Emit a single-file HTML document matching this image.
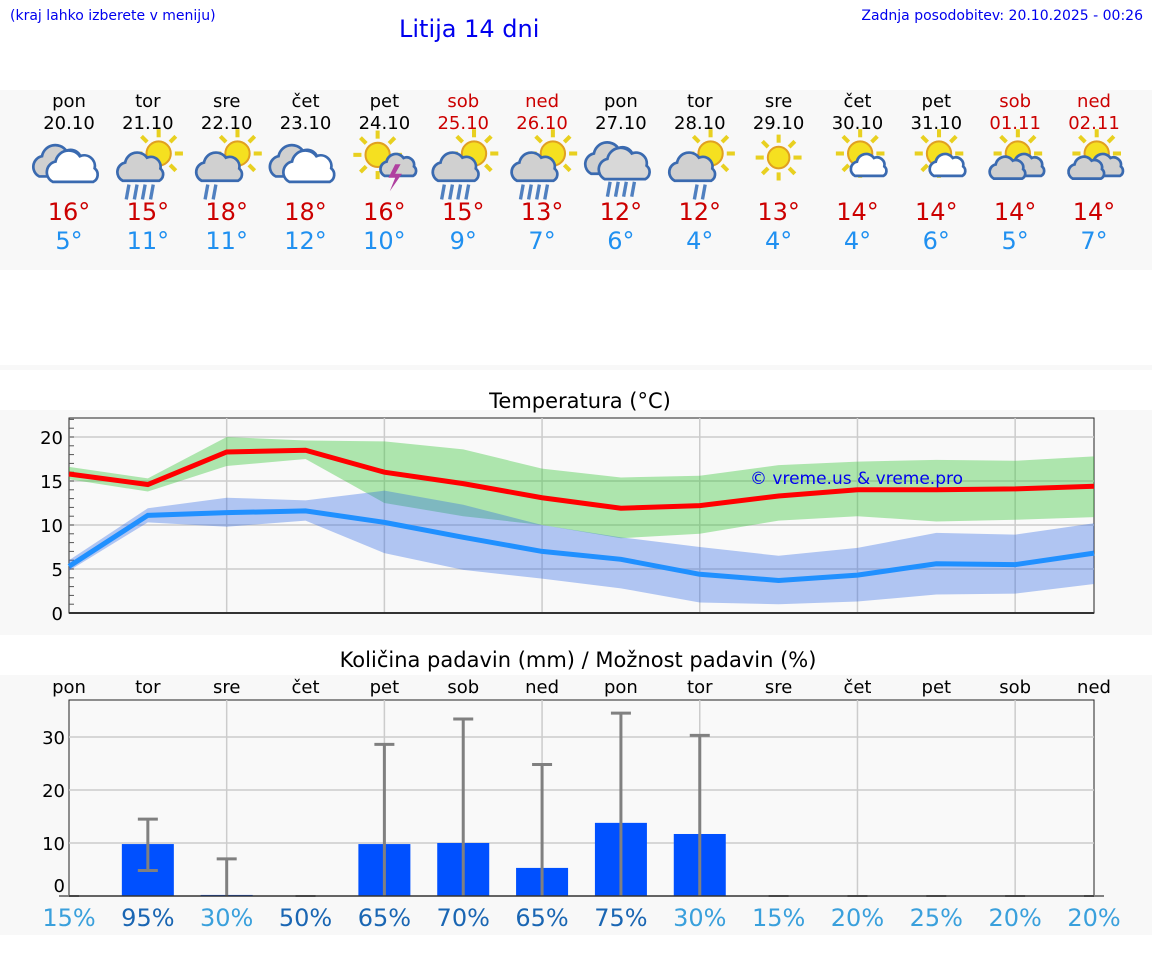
<!DOCTYPE html>
<html><head><meta charset="utf-8"><style>
body{margin:0;width:1152px;height:975px;background:#fff;font-family:"DejaVu Sans","Liberation Sans",sans-serif;position:relative;overflow:hidden}
.a{position:absolute}
</style></head><body>
<div class="a" style="left:10px;top:8px;font-size:14px;color:#0000ee">(kraj lahko izberete v meniju)</div>
<div class="a" style="left:399px;top:15px;font-size:24px;color:#0000ee">Litija 14 dni</div>
<div class="a" style="right:9px;top:8px;font-size:14px;color:#0000ee">Zadnja posodobitev: 20.10.2025 - 00:26</div>
<div class="a" style="left:0;top:90px;width:1152px;height:180px;background:#f8f8f8"></div>
<div class="a" style="left:0;top:365px;width:1152px;height:5px;background:#f8f8f8"></div>
<div class="a" style="left:0;top:410px;width:1152px;height:225px;background:#f8f8f8"></div>
<div class="a" style="left:0;top:675px;width:1152px;height:260px;background:#f8f8f8"></div>
<svg id="s" class="a" style="left:0;top:0" width="1152" height="975"></svg>
<script>
const days=["pon","tor","sre","čet","pet","sob","ned","pon","tor","sre","čet","pet","sob","ned"];
const dates=["20.10","21.10","22.10","23.10","24.10","25.10","26.10","27.10","28.10","29.10","30.10","31.10","01.11","02.11"];
const icons=["cloud","sunrain3","sunrain2","cloud","sunstorm","sunrain3","sunrain3","cloudrain","sunrain1","sun","suncloud","suncloud","suncloudg","suncloudg"];
const tmaxDay=[16,15,18,18,16,15,13,12,12,13,14,14,14,14];
const tminDay=[5,11,11,12,10,9,7,6,4,4,4,6,5,7];
const tmax=[15.8,14.6,18.3,18.5,16.0,14.7,13.1,11.9,12.2,13.3,14.0,14.0,14.1,14.4];
const tmin=[5.3,11.1,11.4,11.6,10.3,8.6,7.0,6.1,4.4,3.7,4.3,5.6,5.5,6.8];
const maxHi=[16.6,15.3,20.0,19.6,19.5,18.6,16.4,15.4,15.6,16.8,17.2,17.4,17.3,17.8];
const maxLo=[15.2,13.8,16.7,17.5,12.5,11.0,10.0,8.5,9.0,10.5,11.0,10.4,10.6,10.9];
const minHi=[6.0,11.9,13.1,12.8,13.9,12.3,10.0,8.6,7.5,6.5,7.4,9.1,8.9,10.2];
const minLo=[4.8,10.3,9.8,10.5,6.8,4.9,3.9,2.8,1.2,1.0,1.3,2.1,2.2,3.3];
const rain=[0,9.8,0.2,0,9.8,10,5.3,13.8,11.7,0,0,0,0,0];
const rainHi=[0,14.5,7,0,28.6,33.4,24.8,34.5,30.3,0,0,0,0,0];
const rainLo=[0,4.8,0,0,0,0,0,0,0,0,0,0,0,0];
const prob=[15,95,30,50,65,70,65,75,30,15,20,25,20,20];
const tTicks=[0,5,10,15,20];const pTicks=[0,10,20,30];

const S=document.getElementById('s');const NS='http://www.w3.org/2000/svg';
function el(t,a,p){const e=document.createElementNS(NS,t);for(const k in a)e.setAttribute(k,a[k]);(p||S).appendChild(e);return e;}
function tx(x,y,s,size,fill,anchor,name){const e=el('text',{x:x,y:y,'font-size':size,fill:fill,'text-anchor':anchor||'middle','font-family':'DejaVu Sans, Liberation Sans, sans-serif'});e.textContent=s;return e;}
const X=i=>69+i*(1094-69)/13;
const Yt=v=>613-v*8.8;
const Yp=v=>896-v*5.3;
function cloud(g,cx,cy,s,fill){el('path',{d:`M${cx-14*s},${cy+8*s} a8 8 0 0 1 2,-15 a10 10 0 0 1 18,-4 a8 8 0 0 1 11,9 a6 6 0 0 1 -1,10 z`.replace(/a(\S+) (\S+) 0 0 1 (\S+),(\S+)/g,(m,r1,r2,dx,dy)=>`a${r1*s} ${r2*s} 0 0 1 ${dx*s},${dy*s}`),fill:fill,stroke:'#3a6ab0','stroke-width':2},g);}
function sun(g,cx,cy,r){for(let k=0;k<8;k++){const a=k*Math.PI/4;el('line',{x1:cx+Math.cos(a)*(r+3),y1:cy+Math.sin(a)*(r+3),x2:cx+Math.cos(a)*(r+9),y2:cy+Math.sin(a)*(r+9),stroke:'#e8d020','stroke-width':3},g);}el('circle',{cx:cx,cy:cy,r:r,fill:'#f5e020',stroke:'#e0a020','stroke-width':1.5},g);}
function drops(g,cx,cy,n){for(let k=0;k<n;k++)el('line',{x1:cx+k*6,y1:cy,x2:cx+k*6-2,y2:cy+11,stroke:'#5080c0','stroke-width':2.5},g);}
days.forEach((d,i)=>{const x=X(i);const we=(i==5||i==6||i==12||i==13);
 tx(x,107,d,18,we?'#cc0000':'#000','middle','day-name');
 tx(x,129,dates[i],18,we?'#cc0000':'#000','middle','day-date');
 const g=el('g',{transform:`translate(${x},167) scale(1.35) translate(${-x},-167)`});
 const t=icons[i];
 if(t=='cloud'){cloud(g,x-8,166,1,'#d0d0d0');cloud(g,x+2,170,1,'#fff');}
 else if(t=='cloudrain'){cloud(g,x-8,164,1,'#d0d0d0');cloud(g,x+2,168,1,'#d8d8d8');drops(g,x-8,178,4);}
 else if(t.startsWith('sunrain')){sun(g,x+8,157,9);cloud(g,x-6,170,0.9,'#d0d0d0');const n=t=='sunrain3'?4:2;drops(g,x-14+(t=='sunrain1'?12:0),180,n);}
 else if(t=='sun'){sun(g,x,160,8);}
 else if(t=='sunstorm'){sun(g,x-5,158,9);cloud(g,x+10,168,0.7,'#d0d0d0');el('path',{d:`M${x+8},165 l-5,10 h5 l-4,10 l9,-13 h-5 l4,-7z`,fill:'#b040a0'},g);}
 else {sun(g,x+2,157,9);cloud(g,x+8,168,0.7,t=='suncloudg'?'#d0d0d0':'#fff');if(t=='suncloudg')cloud(g,x-6,170,0.7,'#d0d0d0');}
 tx(x,220,tmaxDay[i]+'°',24,'#cc0000','middle','max-temp');
 tx(x,249,tminDay[i]+'°',24,'#2090f0','middle','min-temp');
});
// temperature chart
tx(580,408,'Temperatura (°C)',21,'#000','middle','temp-chart-title');
el('rect',{x:69,y:418,width:1025,height:195,fill:'#f9f9f9',stroke:'#222','stroke-width':1});
for(let i=2;i<13;i+=2)el('line',{x1:X(i),y1:418,x2:X(i),y2:613,stroke:'#ccc','stroke-width':1.5});
tTicks.forEach(v=>{el('line',{x1:69,y1:Yt(v),x2:1094,y2:Yt(v),stroke:'#ccc','stroke-width':1.5});tx(63,Yt(v)+7,v,18,'#000','end','temp-y-tick');});
for(let v=1;v<=22;v++)el('line',{x1:69,y1:Yt(v),x2:74,y2:Yt(v),stroke:'#555','stroke-width':1});
function band(hi,lo,fill,name){let d='M'+hi.map((v,i)=>X(i)+','+Yt(v)).join(' L')+' L'+lo.map((v,i)=>X(i)+','+Yt(v)).reverse().join(' L')+'Z';const p=el('path',{d:d,fill:fill});}
band(maxHi,maxLo,'rgba(60,200,60,0.4)','max-temp-range');
band(minHi,minLo,'rgba(40,100,230,0.35)','min-temp-range');
function line(v,c,name){const p=el('polyline',{points:v.map((y,i)=>X(i)+','+Yt(y)).join(' '),fill:'none',stroke:c,'stroke-width':5});}
line(tmax,'#ff0000','max-temp-line');line(tmin,'#2090ff','min-temp-line');
el('line',{x1:69,y1:613,x2:1094,y2:613,stroke:'#333','stroke-width':2});
tx(750,484,'© vreme.us & vreme.pro',17,'#0000ee','start','watermark');
// precipitation chart
tx(578,667,'Količina padavin (mm) / Možnost padavin (%)',21,'#000','middle','precip-chart-title');
days.forEach((d,i)=>tx(X(i),693,d,18,'#000','middle','precip-day-name'));
el('rect',{x:69,y:700,width:1025,height:196,fill:'#f9f9f9',stroke:'#222','stroke-width':1});
for(let i=2;i<13;i+=2)el('line',{x1:X(i),y1:700,x2:X(i),y2:896,stroke:'#ccc','stroke-width':1.5});
pTicks.forEach(v=>{if(v>0)el('line',{x1:69,y1:Yp(v),x2:1094,y2:Yp(v),stroke:'#ccc','stroke-width':1.5});tx(65,Yp(v)+(v==0?-4:7),v,18,'#000','end','precip-y-tick');});
rain.forEach((v,i)=>{const x=X(i);
 if(v>0){const r=el('rect',{x:x-26,y:Yp(v),width:52,height:896-Yp(v),fill:'#0050ff'});}
 if(rainHi[i]>0){el('line',{x1:x,y1:Yp(rainHi[i]),x2:x,y2:Yp(rainLo[i]),stroke:'#808080','stroke-width':3});el('line',{x1:x-10,y1:Yp(rainHi[i]),x2:x+10,y2:Yp(rainHi[i]),stroke:'#808080','stroke-width':3});if(rainLo[i]>0)el('line',{x1:x-10,y1:Yp(rainLo[i]),x2:x+10,y2:Yp(rainLo[i]),stroke:'#808080','stroke-width':3});}
 else el('line',{x1:x-10,y1:896,x2:x+10,y2:896,stroke:'#808080','stroke-width':2});
 tx(x,926,prob[i]+'%',24,prob[i]>=50?'#1a66b3':'#3aa0dc','middle','precip-probability');
});
el('line',{x1:69,y1:896,x2:1094,y2:896,stroke:'#333','stroke-width':1.5});
</script>
</body></html>
